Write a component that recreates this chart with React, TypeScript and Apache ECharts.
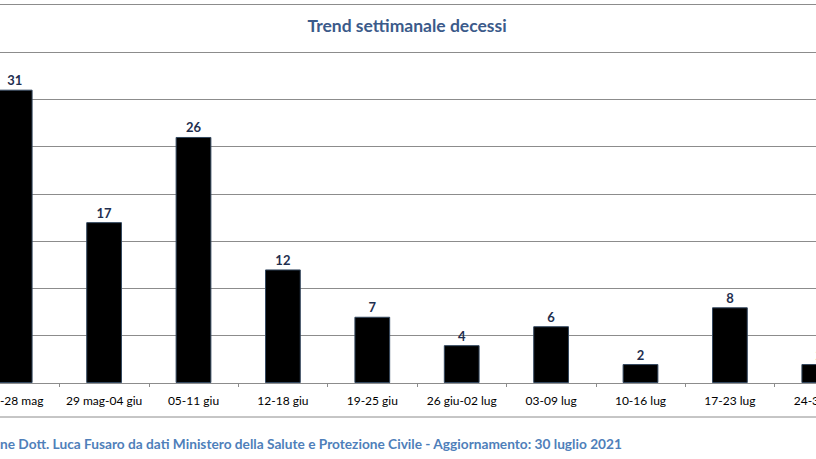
import React, { useEffect, useRef } from "react";
import * as echarts from "echarts";

const categories = [
  "22-28 mag",
  "29 mag-04 giu",
  "05-11 giu",
  "12-18 giu",
  "19-25 giu",
  "26 giu-02 lug",
  "03-09 lug",
  "10-16 lug",
  "17-23 lug",
  "24-30 lug",
];
const deaths = [31, 17, 26, 12, 7, 4, 6, 2, 8, 2];
const titleText = "Trend settimanale decessi";
const footerText =
  "ne Dott. Luca Fusaro da dati Ministero della Salute e Protezione Civile - Aggiornamento: 30 luglio 2021";

const FONT = "Lato, 'Open Sans', 'Noto Sans', sans-serif";
const OFFSET = 30; // inner chart extends beyond the visible frame (cropped reference)

export default function App() {
  const ref = useRef<HTMLDivElement>(null);
  useEffect(() => {
    if (!ref.current) return;
    const chart = echarts.init(ref.current, undefined, { renderer: "svg" });
    chart.setOption({
      animation: false,
      backgroundColor: "#ffffff",
      grid: { left: 0, right: 0, top: 4.5, bottom: 76, containLabel: false },
      xAxis: {
        type: "category",
        data: categories,
        axisLine: { show: true, lineStyle: { color: "#8c8c8c", width: 1 } },
        axisTick: { show: true, alignWithLabel: false, length: 4, lineStyle: { color: "#8c8c8c" } },
        axisLabel: {
          color: "#000000",
          fontFamily: FONT,
          fontSize: 12,
          margin: 11,
          interval: 0,
        },
      },
      yAxis: {
        type: "value",
        min: 0,
        max: 40,
        interval: 5,
        axisLabel: { show: false },
        axisLine: { show: false },
        axisTick: { show: false },
        splitLine: { show: true, lineStyle: { color: "#8c8c8c", width: 1 } },
      },
      series: [
        {
          type: "bar",
          data: deaths,
          barWidth: "40%",
          itemStyle: { color: "#000000", borderColor: "#33475e", borderWidth: 1 },
          label: {
            show: true,
            position: "top",
            distance: 3,
            fontFamily: FONT,
            fontSize: 13,
            fontWeight: "bold",
            color: "#1f2f4f",
          },
        },
      ],
      graphic: [
        {
          type: "text",
          x: 407 + OFFSET,
          y: 25,
          style: {
            text: titleText,
            textAlign: "center",
            textVerticalAlign: "middle",
            fontFamily: FONT,
            fontSize: 17.5,
            fontWeight: "bold",
            fill: "#3b5a8a",
          },
        },
        {
          type: "line",
          shape: { x1: 0, y1: 417, x2: 900, y2: 417 },
          style: { stroke: "#8c8c8c", lineWidth: 1 },
        },
        {
          type: "text",
          x: OFFSET,
          y: 443,
          style: {
            text: footerText,
            textAlign: "left",
            textVerticalAlign: "middle",
            fontFamily: FONT,
            fontSize: 13.7,
            fontWeight: "bold",
            fill: "#4f7fba",
          },
        },
      ],
    });
    return () => chart.dispose();
  }, []);
  return (
    <div style={{ width: 816, height: 459, position: "absolute", left: 0, top: 0, overflow: "hidden", background: "#fff" }}>
      <div ref={ref} style={{ width: 894, height: 459, position: "absolute", left: -OFFSET, top: 0 }} />
    </div>
  );
}
